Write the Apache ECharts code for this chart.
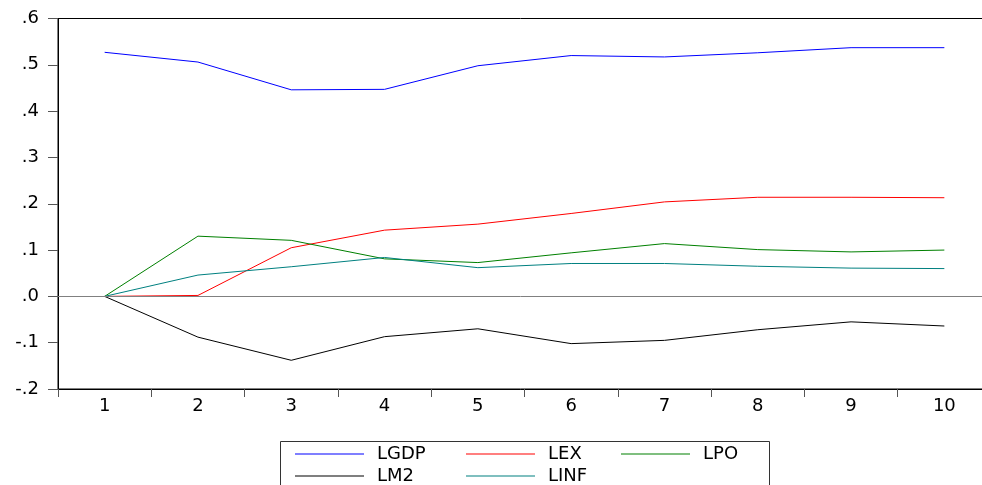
<!DOCTYPE html>
<html>
<head>
<meta charset="utf-8">
<script src="https://cdn.jsdelivr.net/npm/echarts@6/dist/echarts.min.js"></script>
<style>html,body{margin:0;padding:0;background:#fff;}#c{width:982px;height:485px;}</style>
</head>
<body>
<div id="c"></div>
<script>
var categories = ['1','2','3','4','5','6','7','8','9','10'];
var LGDP = [0.527, 0.506, 0.446, 0.447, 0.498, 0.520, 0.517, 0.526, 0.537, 0.537];
var LEX  = [0.000, 0.002, 0.105, 0.143, 0.156, 0.179, 0.204, 0.214, 0.214, 0.213];
var LPO  = [0.000, 0.130, 0.121, 0.081, 0.073, 0.094, 0.114, 0.101, 0.096, 0.100];
var LM2  = [0.000, -0.088, -0.138, -0.087, -0.070, -0.102, -0.095, -0.072, -0.055, -0.064];
var LINF = [0.000, 0.046, 0.064, 0.084, 0.062, 0.071, 0.071, 0.065, 0.061, 0.060];
var seriesNames = ['LGDP','LEX','LPO','LM2','LINF'];
var seriesData = [LGDP, LEX, LPO, LM2, LINF];
var colors = ['#0000ff','#ff0000','#008000','#000000','#008080'];

var font = 'DejaVu Sans, Liberation Sans, Arial, sans-serif';
var chart = echarts.init(document.getElementById('c'));

var series = seriesNames.map(function(n, i){
  var s = {
    name: n, type: 'line', data: seriesData[i], symbol: 'none', silent: true,
    lineStyle: {color: colors[i], width: 1}, itemStyle: {color: colors[i]},
    animation: false, z: 3
  };
  if (i === 0) {
    s.markLine = {silent: true, symbol: 'none', label: {show: false},
      lineStyle: {color: '#808080', type: 'solid', width: 1},
      data: [{yAxis: 0}], animation: false};
  }
  return s;
});

var legendPos = [
  {left: 295, top: 454}, {left: 466, top: 454}, {left: 621, top: 454},
  {left: 295, top: 476}, {left: 466, top: 476}
];
var legends = seriesNames.map(function(n, i){
  return {
    data: [{name: n, icon: 'rect'}], left: legendPos[i].left, top: legendPos[i].top - 9,
    itemWidth: 69, itemHeight: 1, padding: 0, selectedMode: false,
    itemStyle: {color: colors[i]},
    textStyle: {fontFamily: font, fontSize: 18, color: '#000', padding: [0,0,0,8], lineHeight: 18}
  };
});

chart.setOption({
  animation: false,
  backgroundColor: '#fff',
  color: colors,
  grid: {left: 58, top: 18.5, width: 933, height: 370.5, show: true, borderColor: '#000', borderWidth: 1,
    outerBoundsMode: 'none', containLabel: false},
  xAxis: {
    type: 'category', data: categories, boundaryGap: true,
    axisLine: {onZero: false, lineStyle: {color: '#000', width: 1}},
    axisTick: {show: true, length: 8, lineStyle: {color: '#555'}},
    axisLabel: {color: '#000', fontFamily: font, fontSize: 18, margin: 8}
  },
  yAxis: {
    type: 'value', min: -0.2, max: 0.6, interval: 0.1,
    splitLine: {show: false},
    axisLine: {show: true, lineStyle: {color: '#000', width: 1}},
    axisTick: {show: true, length: 10, lineStyle: {color: '#555'}},
    axisLabel: {color: '#000', fontFamily: font, fontSize: 18, margin: 19,
      formatter: function(v){ return (Math.round(v*10)/10).toFixed(1).replace('0.', '.'); }}
  },
  legend: legends,
  graphic: [{type: 'rect', shape: {x: 280.5, y: 441.5, width: 489, height: 60},
    style: {fill: 'none', stroke: '#333', lineWidth: 1}, silent: true, z: 0}],
  series: series
});
</script>
</body>
</html>
